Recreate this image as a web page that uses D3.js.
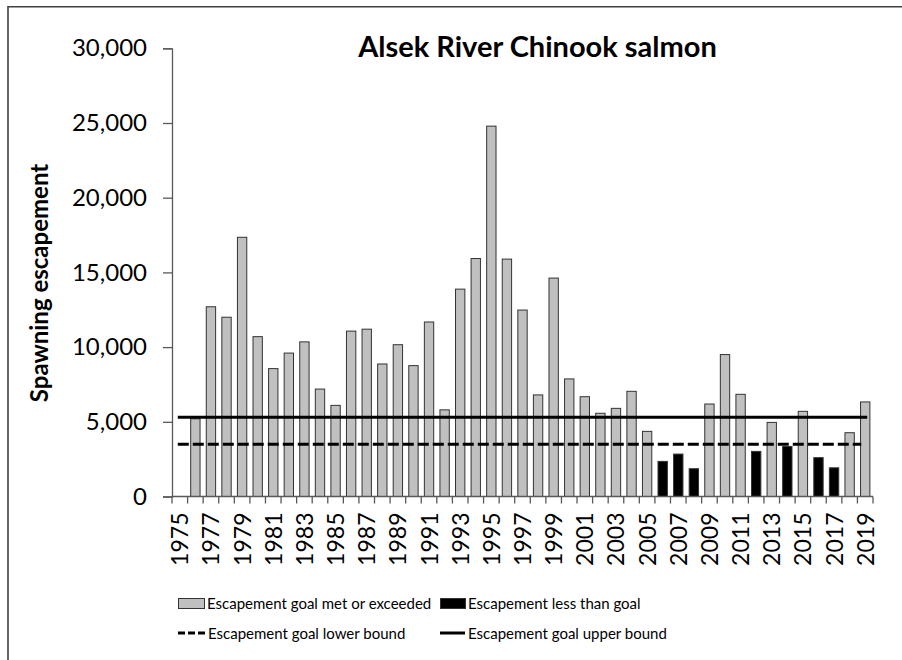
<!DOCTYPE html>
<html>
<head>
<meta charset="utf-8">
<script src="https://cdn.jsdelivr.net/npm/d3@7"></script>
<style>
    body { margin: 0; background: #fff; }
    text { font-family: Lato, "Open Sans", sans-serif; }
</style>
</head>
<body>
<script>
// years (categories)
const years = [
    1975, 1976, 1977, 1978, 1979, 1980, 1981, 1982, 1983, 1984,
    1985, 1986, 1987, 1988, 1989, 1990, 1991, 1992, 1993, 1994,
    1995, 1996, 1997, 1998, 1999, 2000, 2001, 2002, 2003, 2004,
    2005, 2006, 2007, 2008, 2009, 2010, 2011, 2012, 2013, 2014,
    2015, 2016, 2017, 2018, 2019
];

// spawning escapement, 1975 has no estimate
const escapement = [
    null, 5200, 12700, 12000, 17350, 10700, 8560, 9600, 10350, 7190,
    6100, 11070, 11200, 8870, 10160, 8760, 11680, 5800, 13880, 15930,
    24790, 15890, 12480, 6800, 14620, 7870, 6680, 5570, 5900, 7040,
    4360, 2350, 2840, 1860, 6190, 9500, 6840, 3020, 4960, 3350,
    5700, 2600, 1920, 4270, 6330
];

// goal range
const lowerBound = 3500;
const upperBound = 5300;

// tick labels
const yTicks = [0, 5000, 10000, 15000, 20000, 25000, 30000];
const xTickYears = years.filter((d, i) => i % 2 === 0);

const legendLabels = [
    'Escapement goal met or exceeded',
    'Escapement less than goal',
    'Escapement goal lower bound',
    'Escapement goal upper bound'
];

// svg尺寸
const width = 902;
const height = 660;

const plot = {
    left: 172,
    right: 873,
    top: 48.3,
    bottom: 496.5
};

const grey = '#c0c0c0';
const axisColor = '#595959';

const svg = d3.select('body')
    .append('svg')
    .attr('width', width)
    .attr('height', height);

// frame (only top and left edges are visible)
svg.append('path')
    .attr('d', 'M8,' + height + ' V6.8 H' + width)
    .attr('fill', 'none')
    .attr('stroke', '#404040')
    .attr('stroke-width', 1.6);

// scales
const xScale = d3.scaleBand()
    .domain(years)
    .range([plot.left, plot.right])
    .paddingInner(0.4)
    .paddingOuter(0.2);

const yScale = d3.scaleLinear()
    .domain([0, 30000])
    .range([plot.bottom, plot.top]);

// bars
const bars = years.map((d, i) => ({year: d, value: escapement[i]}))
    .filter(d => d.value !== null);

svg.append('g')
    .selectAll('rect')
    .data(bars)
    .enter()
    .append('rect')
    .attr('x', d => xScale(d.year))
    .attr('y', d => yScale(d.value))
    .attr('width', xScale.bandwidth())
    .attr('height', d => yScale(0) - yScale(d.value))
    .attr('fill', d => d.value < lowerBound ? '#000' : grey)
    .attr('stroke', '#333')
    .attr('stroke-width', 1);

// goal lines
const lineStart = xScale(years[0]) + xScale.bandwidth() / 2 - 2;
const lineEnd = xScale(years[years.length - 1]) + xScale.bandwidth() / 2 + 2;

svg.append('line')
    .attr('x1', lineStart)
    .attr('x2', lineEnd)
    .attr('y1', yScale(upperBound))
    .attr('y2', yScale(upperBound))
    .attr('stroke', '#000')
    .attr('stroke-width', 3);

svg.append('line')
    .attr('x1', lineStart)
    .attr('x2', lineEnd - 6)
    .attr('y1', yScale(lowerBound))
    .attr('y2', yScale(lowerBound))
    .attr('stroke', '#000')
    .attr('stroke-width', 3)
    .attr('stroke-dasharray', '11,4');

// y轴
const yAxis = d3.axisLeft(yScale)
    .tickValues(yTicks)
    .tickSize(9)
    .tickPadding(16)
    .tickFormat(d3.format(','));

const yG = svg.append('g')
    .attr('transform', 'translate(' + plot.left + ', 0)')
    .call(yAxis);

yG.select('.domain').attr('stroke', axisColor).attr('stroke-width', 1.3);
yG.selectAll('.tick line').attr('stroke', axisColor).attr('stroke-width', 1.3);
yG.selectAll('.tick text')
    .attr('fill', '#000')
    .style('font-size', '24px');

// x轴 labels, rotated
const xAxis = d3.axisBottom(xScale)
    .tickValues(xTickYears)
    .tickSize(0)
    .tickPadding(0);

const xG = svg.append('g')
    .attr('transform', 'translate(0, ' + plot.bottom + ')')
    .call(xAxis);

xG.select('.domain').remove();
xG.selectAll('.tick text')
    .attr('fill', '#000')
    .style('font-size', '23px')
    .attr('text-anchor', 'end')
    .attr('dy', null)
    .attr('transform', 'translate(8.5, 16) rotate(-90)')
    .attr('y', 0)
    .attr('x', 0);

// x axis line and boundary ticks
const gap = (xScale.step() - xScale.bandwidth()) / 2;
const boundaries = years.map(d => xScale(d) - gap).concat([plot.right]);

svg.append('line')
    .attr('x1', plot.left)
    .attr('x2', plot.right)
    .attr('y1', plot.bottom)
    .attr('y2', plot.bottom)
    .attr('stroke', axisColor)
    .attr('stroke-width', 1.3);

svg.append('g')
    .selectAll('line')
    .data(boundaries)
    .enter()
    .append('line')
    .attr('x1', d => d)
    .attr('x2', d => d)
    .attr('y1', plot.bottom)
    .attr('y2', plot.bottom + 7)
    .attr('stroke', axisColor)
    .attr('stroke-width', 1.3);

// title
svg.append('text')
    .attr('x', 537.5)
    .attr('y', 57)
    .attr('text-anchor', 'middle')
    .style('font-size', '29px')
    .style('font-weight', 'bold')
    .text('Alsek River Chinook salmon');

// y axis title
svg.append('text')
    .attr('transform', 'translate(48, 283) rotate(-90)')
    .attr('text-anchor', 'middle')
    .style('font-size', '24px')
    .style('font-weight', 'bold')
    .text('Spawning escapement');

// legend
const legend = svg.append('g');

legend.append('rect')
    .attr('x', 178.5).attr('y', 598.5)
    .attr('width', 26).attr('height', 10)
    .attr('fill', grey).attr('stroke', '#333');

legend.append('rect')
    .attr('x', 440.5).attr('y', 598.5)
    .attr('width', 25).attr('height', 10)
    .attr('fill', '#000').attr('stroke', '#333');

legend.append('line')
    .attr('x1', 178).attr('x2', 205)
    .attr('y1', 633).attr('y2', 633)
    .attr('stroke', '#000').attr('stroke-width', 3)
    .attr('stroke-dasharray', '7,3');

legend.append('line')
    .attr('x1', 440).attr('x2', 465)
    .attr('y1', 633).attr('y2', 633)
    .attr('stroke', '#000').attr('stroke-width', 3);

const legendPos = [[207, 609], [468, 609], [208, 639], [468, 639]];

legend.selectAll('text')
    .data(legendLabels)
    .enter()
    .append('text')
    .attr('x', (d, i) => legendPos[i][0])
    .attr('y', (d, i) => legendPos[i][1])
    .style('font-size', '15px')
    .text(d => d);
</script>
</body>
</html>
